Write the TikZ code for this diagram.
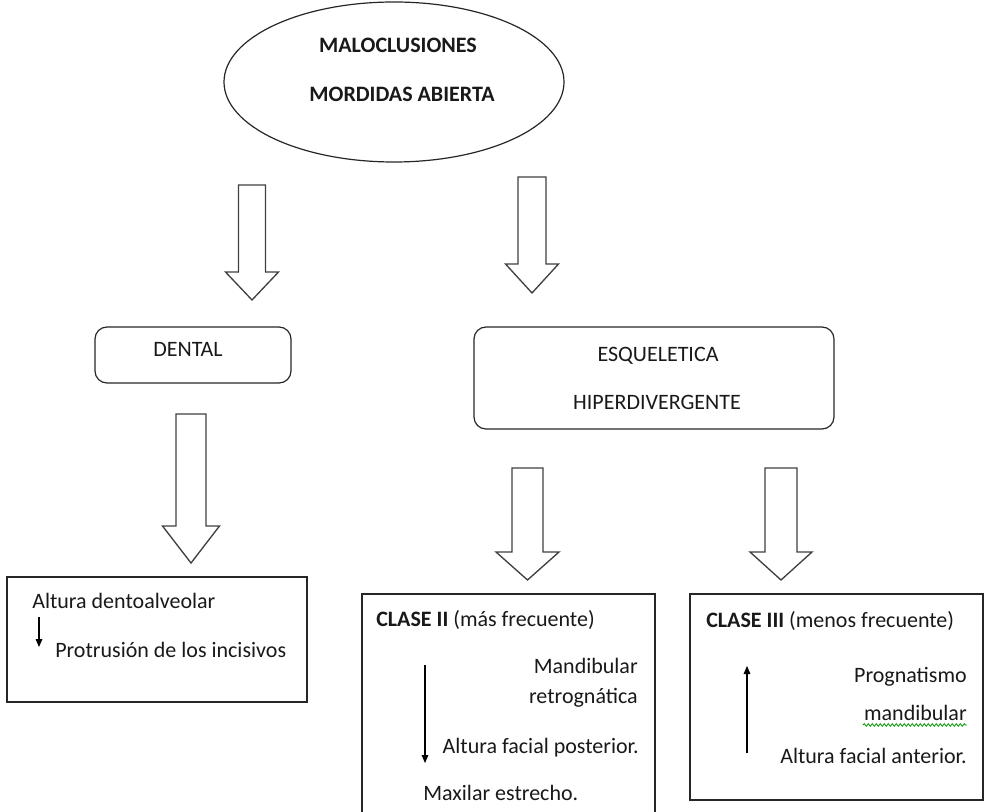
\documentclass[tikz,border=0pt]{standalone}
\usepackage{fontspec}
\setmainfont{Carlito}
\usetikzlibrary{shapes.geometric,arrows.meta,decorations.pathmorphing}

\newcommand{\pxl}{0.75pt}
\tikzset{
  txt/.style={font=\fontsize{16.5}{20}\selectfont, inner sep=0pt, text=black!90},
  txtb/.style={txt, font=\fontsize{16.5}{20}\selectfont\bfseries},
  frame/.style={draw=black!85, line width=0.9pt},
  roundbox/.style={frame, rounded corners=9pt},
  blockarrow/.style={draw=black!75, line width=1pt, fill=white, line join=miter},
  thinarrow/.style={line width=0.8pt, -{Triangle[length=6pt,width=5pt]}},
}

% block arrow: centre x, top, start of head, tip, half shaft, half head
\newcommand{\blockarr}[6]{%
  \draw[blockarrow] (#1-#5,#2) -- (#1+#5,#2) -- (#1+#5,#3) -- (#1+#6,#3)
    -- (#1,#4) -- (#1-#6,#3) -- (#1-#5,#3) -- cycle;}

\begin{document}
\begin{tikzpicture}[x=0.75pt, y=-0.75pt]
\useasboundingbox (0,0) rectangle (984,812);

% top
\node[frame, ellipse, minimum width=340*\pxl, minimum height=160*\pxl] (maloc) at (394,82) {};
\node[txtb, anchor=base] (malocA) at (398,53) {MALOCLUSIONES};
\node[txtb, anchor=base] (malocB) at (402,102) {MORDIDAS ABIERTA};

\blockarr{252}{185}{272}{300}{13.5}{26.5}
\blockarr{532}{177}{264}{293}{14}{26.5}

% second row
\node[roundbox, minimum width=196*\pxl, minimum height=56*\pxl] (dental) at (193,355) {};
\node[txt, anchor=base] at (188,357) {DENTAL};
\node[roundbox, minimum width=360*\pxl, minimum height=102*\pxl] (esq) at (654,378) {};
\node[txt, anchor=base] (esqA) at (658,362) {ESQUELETICA};
\node[txt, anchor=base] (esqB) at (657,409) {HIPERDIVERGENTE};

\blockarr{191}{414}{526}{563}{15}{28.5}
\blockarr{527.5}{468}{552}{580}{15.5}{31.5}
\blockarr{781}{468}{552}{580}{16}{31}

% bottom boxes
\node[frame, minimum width=300*\pxl, minimum height=125*\pxl] (dentbox) at (157,639.5) {};
\node[txt, anchor=base west] (altA) at (32,608) {Altura dentoalveolar};
\node[txt, anchor=base west] (prot) at (55,657) {Protrusión de los incisivos};
\draw[thinarrow] (39,617) -- (39,647);

\node[frame, minimum width=293*\pxl, minimum height=236*\pxl] (claseII) at (508.5,712) {};
\node[txt, anchor=base west] (c2head) at (376,626) {\textbf{CLASE II} (más frecuente)};
\node[txt, anchor=base east] (c2a) at (638,673) {Mandibular};
\node[txt, anchor=base east] (c2b) at (638,703) {retrognática};
\node[txt, anchor=base east] (c2c) at (639,753) {Altura facial posterior.};
\node[txt, anchor=base west] (c2d) at (423,800) {Maxilar estrecho.};
\draw[thinarrow] (425,665) -- (425,763);

\node[frame, minimum width=293*\pxl, minimum height=206*\pxl] (claseIII) at (836.5,697) {};
\node[txt, anchor=base west] (c3head) at (706,627) {\textbf{CLASE III} (menos frecuente)};
\node[txt, anchor=base east] (c3a) at (967,682) {Prognatismo};
\node[txt, anchor=base east] (c3b) at (967,720) {mandibular};
\draw[green!60!black, line width=0.6pt, decorate,
  decoration={snake, amplitude=1pt, segment length=3pt}] (863,725) -- (967,725);
\node[txt, anchor=base east] (c3c) at (967,763) {Altura facial anterior.};
\draw[thinarrow] (747,753) -- (747,666);
\end{tikzpicture}
\end{document}
